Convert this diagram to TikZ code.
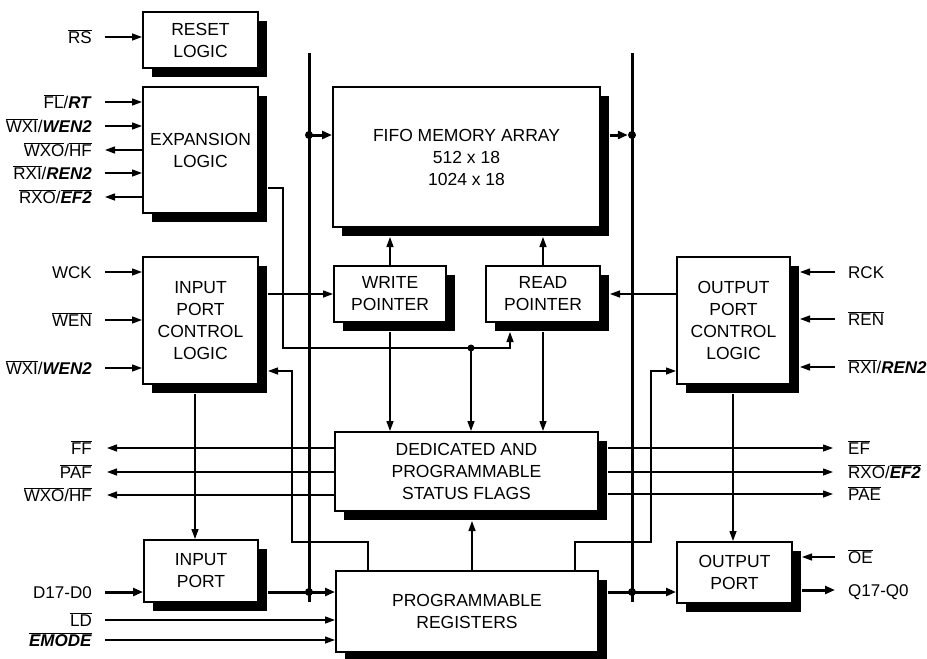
\documentclass[tikz,border=0pt]{standalone}
\usepackage{fontspec}
\setmainfont{Liberation Sans}
\usetikzlibrary{arrows.meta,shadows,calc}
\newcommand\ob[1]{$\overline{\hbox{#1}}$}
\newcommand\bi[1]{\textbf{\textit{#1}}}
\begin{document}
\begin{tikzpicture}[x=1pt,y=-1pt,
 blk/.style={draw, line width=2pt, fill=white, align=center, inner sep=0pt,
   font=\fontsize{17.5}{22}\selectfont,
   general shadow={shadow xshift=9pt, shadow yshift=-9pt, fill=black}},
 lab/.style={inner sep=0pt, font=\fontsize{17}{20}\selectfont},
 thinl/.style={line width=1.3pt},
 arr/.style={line width=1.3pt, -{Triangle[length=10pt,width=7pt]}},
 bus/.style={line width=3pt},
 barr/.style={line width=3pt, -{Triangle[length=10pt,width=8pt]}},
 jdot/.style={circle, fill=black, inner sep=0pt, minimum size=8pt}
]
\useasboundingbox (0,0) rectangle (927,659);
\fill[white] (0,0) rectangle (927,659);

% blocks
\node[blk, minimum width=115pt, minimum height=56pt]  (reset)   at (200.5,40)   {RESET\\LOGIC};
\node[blk, minimum width=115pt, minimum height=126pt] (exp)     at (200.5,150)  {EXPANSION\\LOGIC};
\node[blk, minimum width=115pt, minimum height=127pt] (ipcl)    at (200.5,320.5){INPUT\\PORT\\CONTROL\\LOGIC};
\node[blk, minimum width=114pt, minimum height=62pt]  (inport)  at (201,571)    {INPUT\\PORT};
\node[blk, minimum width=267pt, minimum height=140pt] (fifo)    at (466.5,157)  {FIFO MEMORY ARRAY\\512 x 18\\1024 x 18};
\node[blk, minimum width=112pt, minimum height=56pt]  (wp)      at (390,294)    {WRITE\\POINTER};
\node[blk, minimum width=114pt, minimum height=56pt]  (rp)      at (543,294)    {READ\\POINTER};
\node[blk, minimum width=263pt, minimum height=79pt]  (ded)     at (466.5,471.5){DEDICATED AND\\PROGRAMMABLE\\STATUS FLAGS};
\node[blk, minimum width=262pt, minimum height=81pt]  (preg)    at (467,611.5)  {PROGRAMMABLE\\REGISTERS};
\node[blk, minimum width=113pt, minimum height=127pt] (opcl)    at (733.5,320.5){OUTPUT\\PORT\\CONTROL\\LOGIC};
\node[blk, minimum width=115pt, minimum height=61pt]  (outport) at (734.5,572.5){OUTPUT\\PORT};

% shadow edges
\coordinate (resetR) at ($(reset.east)+(9,0)$);
\coordinate (expR)   at ($(exp.east)+(9,0)$);
\coordinate (ipclR)  at ($(ipcl.east)+(9,0)$);
\coordinate (inR)    at ($(inport.east)+(9,0)$);
\coordinate (opclR)  at ($(opcl.east)+(9,0)$);
\coordinate (outR)   at ($(outport.east)+(9,0)$);
\coordinate (dedR)   at ($(ded.east)+(9,0)$);
\coordinate (pregR)  at ($(preg.east)+(9,0)$);
\coordinate (fifoR)  at ($(fifo.east)+(9,0)$);
\coordinate (fsb)    at ($(fifo.south)+(0,9)$);
\coordinate (dsb)    at ($(ded.south)+(0,9)$);
\coordinate (rsb)    at ($(rp.south)+(0,9)$);

% left labels
\node[lab, anchor=base east] (lRS)   at (92,43)  {\ob{RS}};
\node[lab, anchor=base east] (lFL)   at (92,108) {\ob{FL}/\bi{RT}};
\node[lab, anchor=base east] (lWXI)  at (92,132) {\ob{WXI}/\bi{WEN2}};
\node[lab, anchor=base east] (lWXO)  at (92,156) {\ob{WXO}/\ob{HF}};
\node[lab, anchor=base east] (lRXI)  at (92,179) {\ob{RXI}/\bi{REN2}};
\node[lab, anchor=base east] (lRXO)  at (92,203) {\ob{RXO}/\ob{\bi{EF2}}};
\node[lab, anchor=base east] (lWCK)  at (92,278) {WCK};
\node[lab, anchor=base east] (lWEN)  at (92,326) {\ob{WEN}};
\node[lab, anchor=base east] (lWXI2) at (92,374) {\ob{WXI}/\bi{WEN2}};
\node[lab, anchor=base east] (lFF)   at (92,454) {\ob{FF}};
\node[lab, anchor=base east] (lPAF)  at (92,478) {\ob{PAF}};
\node[lab, anchor=base east] (lWXO2) at (92,501) {\ob{WXO}/\ob{HF}};
\node[lab, anchor=base east] (lD)    at (92,598) {D17-D0};
\node[lab, anchor=base east] (lLD)   at (92,626) {\ob{LD}};
\node[lab, anchor=base east] (lEM)   at (92,646) {\ob{\bi{EMODE}}};

% right labels
\node[lab, anchor=base west] (rRCK) at (848,278) {RCK};
\node[lab, anchor=base west] (rREN) at (848,325) {\ob{REN}};
\node[lab, anchor=base west] (rRXI) at (848,373) {\ob{RXI}/\bi{REN2}};
\node[lab, anchor=base west] (rEF)  at (848,454) {\ob{EF}};
\node[lab, anchor=base west] (rRXO) at (848,478) {\ob{RXO}/\ob{\bi{EF2}}};
\node[lab, anchor=base west] (rPAE) at (848,500) {\ob{PAE}};
\node[lab, anchor=base west] (rOE)  at (848,563) {\ob{OE}};
\node[lab, anchor=base west] (rQ)   at (848,596) {Q17-Q0};

% label line ends
\coordinate (aRS)   at (105,37);
\coordinate (aFL)   at (105,102);
\coordinate (aWXI)  at (105,126);
\coordinate (aWXO)  at (105,150);
\coordinate (aRXI)  at (105,173);
\coordinate (aRXO)  at (105,197);
\coordinate (aWCK)  at (105,272);
\coordinate (aWEN)  at (105,320);
\coordinate (aWXI2) at (105,368);
\coordinate (aFF)   at (107,448);
\coordinate (aPAF)  at (107,472);
\coordinate (aWXO2) at (107,495);
\coordinate (aD)    at (105,592);
\coordinate (aLD)   at (105,620);
\coordinate (aEM)   at (105,640);
\coordinate (bRCK)  at (835,272);
\coordinate (bREN)  at (835,319);
\coordinate (bRXI)  at (835,367);
\coordinate (bEF)   at (833,448);
\coordinate (bRXO)  at (833,472);
\coordinate (bPAE)  at (833,494);
\coordinate (bOE)   at (835,557);
\coordinate (bQ)    at (835,590);

% left I/O
\draw[arr] (aRS) -- (aRS -| reset.west);
\draw[arr] (aFL) -- (aFL -| exp.west);
\draw[arr] (aWXI) -- (aWXI -| exp.west);
\draw[arr] (aWXO -| exp.west) -- (aWXO);
\draw[arr] (aRXI) -- (aRXI -| exp.west);
\draw[arr] (aRXO -| exp.west) -- (aRXO);
\draw[arr] (aWCK) -- (aWCK -| ipcl.west);
\draw[arr] (aWEN) -- (aWEN -| ipcl.west);
\draw[arr] (aWXI2) -- (aWXI2 -| ipcl.west);
\draw[arr] (aFF -| ded.west) -- (aFF);
\draw[arr] (aPAF -| ded.west) -- (aPAF);
\draw[arr] (aWXO2 -| ded.west) -- (aWXO2);
\draw[barr] (aD) -- (aD -| inport.west);
\draw[arr] (aLD) -- (aLD -| preg.west);
\draw[arr] (aEM) -- (aEM -| preg.west);

% right I/O
\draw[arr] (bRCK) -- (bRCK -| opclR);
\draw[arr] (bREN) -- (bREN -| opclR);
\draw[arr] (bRXI) -- (bRXI -| opclR);
\draw[arr] (bEF -| dedR) -- (bEF);
\draw[arr] (bRXO -| dedR) -- (bRXO);
\draw[arr] (bPAE -| dedR) -- (bPAE);
\draw[arr] (bOE) -- (bOE -| outR);
\draw[barr] (bQ -| outR) -- (bQ);

% buses
\coordinate (lbT) at (309,53);  \coordinate (lbB) at (309,602);
\coordinate (rbT) at (632,53);  \coordinate (rbB) at (632,602);
\draw[bus] (lbT) -- (lbB);
\draw[bus] (rbT) -- (rbB);
\node[jdot] (d1) at (309,135) {};
\node[jdot] (d2) at (632,135) {};
\node[jdot] (d3) at (309,592) {};
\node[jdot] (d4) at (632,592) {};
\draw[barr] (d1.center) -- (d1 -| fifo.west);
\draw[barr] (d2 -| fifoR) -- (d2.west);
\draw[barr] (d3 -| inR) -- (d3 -| preg.west);
\draw[barr] (d4 -| pregR) -- (d4 -| outport.west);

% pointers
\draw[arr] (wp.north) -- (wp.north |- fsb);
\draw[arr] (rp.north) -- (rp.north |- fsb);
\draw[arr] ($(wp.south)+(0,9)$) -- (wp.south |- ded.north);
\draw[arr] (rsb) -- (rp.south |- ded.north);
\draw[arr] (wp.west -| ipclR) -- (wp.west);
\draw[arr] (rp.east -| opcl.west) -- ($(rp.east)+(9,0)$);

% expansion to read pointer / flags
\coordinate (e1) at (283,188);
\node[jdot, minimum size=7pt] (j1) at (471,348) {};
\coordinate (e3) at (510,348);
\draw[thinl] (e1 -| expR) -- (e1) |- (j1.center);
\draw[arr] (j1.center) -- (e3) -- (e3 |- rsb);
\draw[arr] (j1.center) -- (j1 |- ded.north);

% programmable registers feedback
\coordinate (k1) at (292,371);
\coordinate (k2) at (651,371);
\draw[arr] ($(preg.north west)+(33,0)$) |- (292,542) -- (k1) -- (k1 -| ipclR);
\draw[arr] ($(preg.north east)+(-24,0)$) |- (651,542) -- (k2) -- (k2 -| opcl.west);
\draw[arr] ($(preg.north)+(5,0)$) -- ($(preg.north |- dsb)+(5,0)$);

% control to ports
\coordinate (v1) at ($(ipcl.south)+(-5.5,9)$);
\draw[arr] (v1) -- (v1 |- inport.north);
\coordinate (v2) at ($(opcl.south)+(-0.5,9)$);
\draw[arr] (v2) -- (v2 |- outport.north);
\end{tikzpicture}
\end{document}
